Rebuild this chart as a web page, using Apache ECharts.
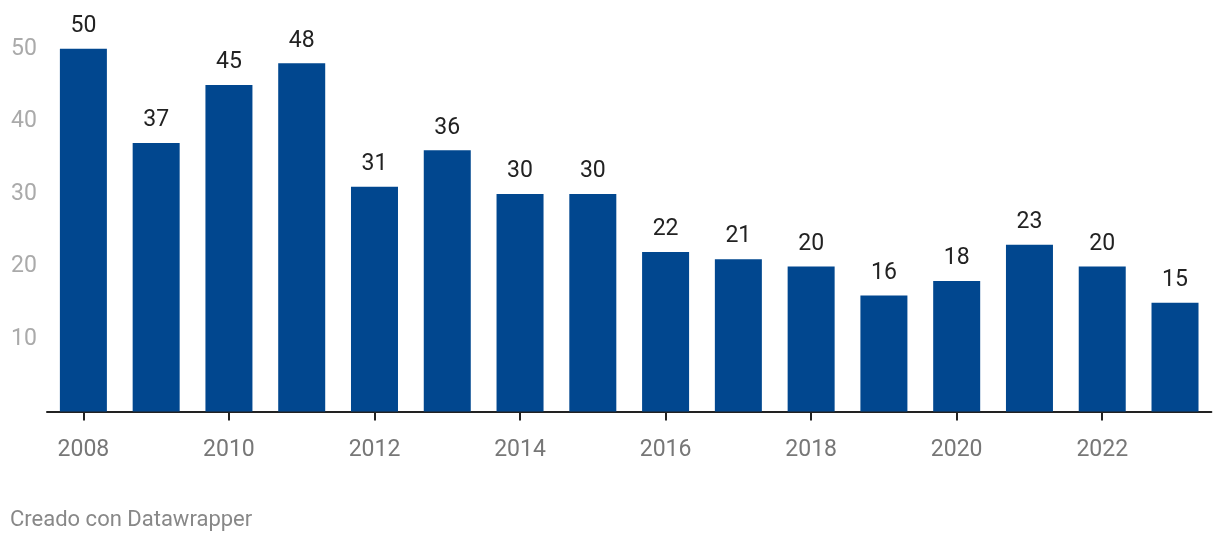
<!DOCTYPE html>
<html><head><meta charset="utf-8">
<script src="https://cdn.jsdelivr.net/npm/echarts@6/dist/echarts.min.js"></script>
<style>html,body{margin:0;padding:0;background:#fff}#c{width:1220px;height:544px}</style>
</head><body><div id="c"></div>
<script>
const years = ['2008','2009','2010','2011','2012','2013','2014','2015','2016','2017','2018','2019','2020','2021','2022','2023'];
const values = [50,37,45,48,31,36,30,30,22,21,20,16,18,23,20,15];
const yTicks = [0,10,20,30,40,50];
const footer = 'Creado con Datawrapper';

const chart = echarts.init(document.getElementById('c'), null, {renderer:'canvas'});
chart.setOption({
  animation:false,
  textStyle:{fontFamily:'Roboto'},
  grid:{left:47,right:8.6,top:48.8,bottom:132.5,containLabel:false},
  graphic:[{type:'text',left:10,top:509,style:{text:footer,fill:'#888',font:'22px Roboto'}}],
  xAxis:{type:'category',data:years,
    axisLine:{lineStyle:{color:'#222',width:2}},
    axisTick:{show:true,alignWithLabel:true,interval:1,length:9,lineStyle:{color:'#222',width:2}},
    axisLabel:{interval:1,color:'#777',fontSize:23,margin:27,fontFamily:'Roboto'}},
  yAxis:{type:'value',min:yTicks[0],max:yTicks[yTicks.length-1],interval:10,
    splitLine:{show:false},axisLine:{show:false},axisTick:{show:false},
    axisLabel:{color:'#aaa',fontSize:23,align:'left',margin:36,fontFamily:'Roboto',
      formatter:v=>v===0?'':String(v)}},
  series:[{type:'bar',data:values,barWidth:47,
    itemStyle:{color:'#01478f'},
    label:{show:true,position:'top',distance:11,color:'#222',fontSize:23,fontFamily:'Roboto'}}]
});
</script></body></html>
